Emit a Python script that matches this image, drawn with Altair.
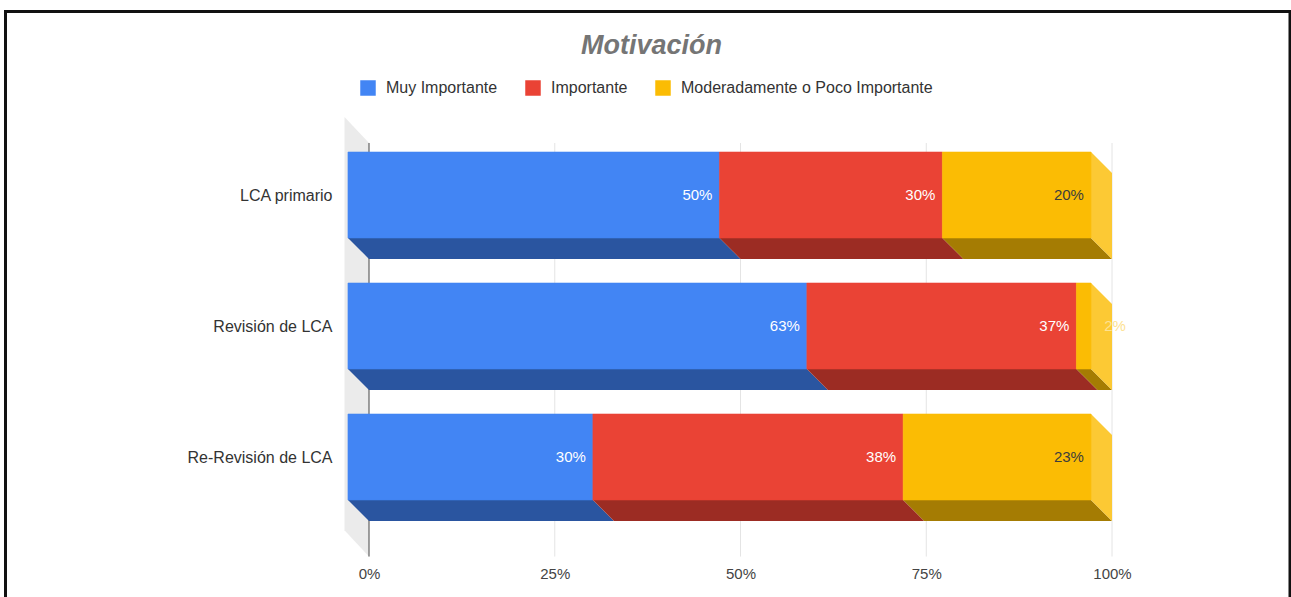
import altair as alt
import pandas as pd

categories = ["LCA primario", "Revisión de LCA", "Re-Revisión de LCA"]
series = ["Muy Importante", "Importante", "Moderadamente o Poco Importante"]
values = {
    "Muy Importante": [50, 63, 30],
    "Importante": [30, 37, 38],
    "Moderadamente o Poco Importante": [20, 2, 23],
}
front_colors = ["#4285F4", "#EA4335", "#FBBC04"]
bottom_colors = ["#2A55A0", "#9C2C23", "#A57C03"]
side_color = "#FCC934"
tick_values = [0, 25, 50, 75, 100]

FONT = "Liberation Sans"
# Pseudo-3D depth in data units: percent along x, rows along y.
DEPTH_X = 2.83
DEPTH_Y = 0.16
HALF_BAR = 0.328

fronts, bottoms, sides, labels = [], [], [], []
for r, cat in enumerate(categories):
    total = sum(values[s][r] for s in series)
    cum = 0.0
    for i, s in enumerate(series):
        v = values[s][r]
        start = cum / total * 100 - DEPTH_X
        end = (cum + v) / total * 100 - DEPTH_X
        cum += v
        fronts.append(dict(row=r, series=s, x0=start, x1=end,
                           y0=r - HALF_BAR, y1=r + HALF_BAR))
        key = f"{r}-{i}"
        bottoms.append(dict(key=key, c=bottom_colors[i], y=r + HALF_BAR, a=start, b=end))
        bottoms.append(dict(key=key, c=bottom_colors[i], y=r + HALF_BAR + DEPTH_Y,
                            a=start + DEPTH_X, b=end + DEPTH_X))
        pale = v < 5
        labels.append(dict(row=r, x=end + (4.7 if pale else -0.95), text=f"{v}%",
                           color="#FDE293" if pale else ("#3C3C3C" if i == 2 else "#FFFFFF")))
    sides.append(dict(row=r, x=100 - DEPTH_X, t=r - HALF_BAR, b=r + HALF_BAR))
    sides.append(dict(row=r, x=100, t=r - HALF_BAR + DEPTH_Y, b=r + HALF_BAR + DEPTH_Y))

x_scale = alt.Scale(domain=[0, 100], range=[369, 1112], nice=False, zero=False)
y_scale = alt.Scale(domain=[0, 2], range=[195, 457], nice=False, zero=False)
category_expr = "[" + ", ".join(f"'{c}'" for c in categories) + "][datum.value]"

x_axis = alt.Axis(
    title=None, values=tick_values, labelExpr="datum.value + '%'", grid=False,
    domain=False, ticks=False, offset=-31, labelPadding=0, labelFont=FONT,
    labelFontSize=15, labelColor="#444444", labelBaseline="top", labelFlush=False,
    labelAlign="center")
y_axis = alt.Axis(
    title=None, values=[0, 1, 2], labelExpr=category_expr,
    grid=False, domain=False, ticks=False, offset=-332, labelPadding=0, labelFont=FONT,
    labelFontSize=16, labelColor="#333333")
# Every layer shares one axis definition, so they merge into a single pair of axes.
shared_x = dict(scale=x_scale, axis=x_axis)
shared_y = dict(scale=y_scale, axis=y_axis)

wall = alt.Chart(pd.DataFrame([
    dict(x=-3.3, t=-0.595, b=2.56),
    dict(x=0, t=-0.397, b=2.76),
])).mark_area(orient="vertical", color="#EBEBEB").encode(
    x=alt.X("x:Q", **shared_x), y=alt.Y("t:Q", **shared_y), y2="b:Q")

grid = alt.Chart(pd.DataFrame(dict(x=tick_values[1:], t=-0.397, b=2.76))).mark_rule(
    color="#E4E4E4", strokeWidth=1).encode(
    x=alt.X("x:Q", **shared_x), y=alt.Y("t:Q", **shared_y), y2="b:Q")

zero_line = alt.Chart(pd.DataFrame(dict(x=[0], t=-0.397, b=2.76))).mark_rule(
    color="#444444", strokeWidth=1).encode(
    x=alt.X("x:Q", **shared_x), y=alt.Y("t:Q", **shared_y), y2="b:Q")

bottom_faces = alt.Chart(pd.DataFrame(bottoms)).mark_area(orient="horizontal").encode(
    x=alt.X("a:Q", **shared_x), x2="b:Q", y=alt.Y("y:Q", **shared_y),
    color=alt.Color("c:N", scale=None), detail="key:N")

side_faces = alt.Chart(pd.DataFrame(sides)).mark_area(orient="vertical", color=side_color).encode(
    x=alt.X("x:Q", **shared_x), y=alt.Y("t:Q", **shared_y), y2="b:Q", detail="row:N")

front_scale = alt.Scale(domain=series, range=front_colors)
front_faces = alt.Chart(pd.DataFrame(fronts)).mark_rect(strokeWidth=0.6).encode(
    x=alt.X("x0:Q", **shared_x), x2="x1:Q",
    y=alt.Y("y0:Q", **shared_y), y2="y1:Q",
    stroke=alt.Stroke("series:N", scale=front_scale, legend=None),
    color=alt.Color("series:N", scale=front_scale,
                    legend=alt.Legend(orient="none", legendX=360, legendY=80, direction="horizontal",
                                      title=None, symbolType="square", symbolSize=240,
                                      symbolStrokeWidth=0, labelFont=FONT, labelFontSize=16,
                                      labelColor="#333333", columnPadding=27, labelLimit=400,
                                      labelOffset=10)),
)

value_labels = alt.Chart(pd.DataFrame(labels)).mark_text(
    align="right", baseline="middle", font=FONT, fontSize=15).encode(
    x=alt.X("x:Q", **shared_x), y=alt.Y("row:Q", **shared_y),
    text="text:N", color=alt.Color("color:N", scale=None))

# Page frame around the chart, open at the bottom edge.
frame = alt.Chart(pd.DataFrame(dict(a=[0]))).mark_rect(
    fill=None, stroke="#111111", strokeWidth=3).encode(
    x=alt.value(5.5), x2=alt.value(1290), y=alt.value(11.5), y2=alt.value(640))

chart = alt.layer(wall, grid, zero_line, bottom_faces, side_faces, front_faces,
                  value_labels, frame).resolve_scale(color="independent").properties(
    width=1291, height=597, padding=0,
    autosize=alt.AutoSizeParams(type="none"),
    title=alt.TitleParams("Motivación", font=FONT, fontSize=27, fontWeight="bold",
                          fontStyle="italic", color="#757575", anchor="middle",
                          baseline="middle", dy=73, dx=6, offset=0),
).configure_view(stroke=None)

chart.save("out.html", embed_options={"renderer": "svg", "actions": False})
